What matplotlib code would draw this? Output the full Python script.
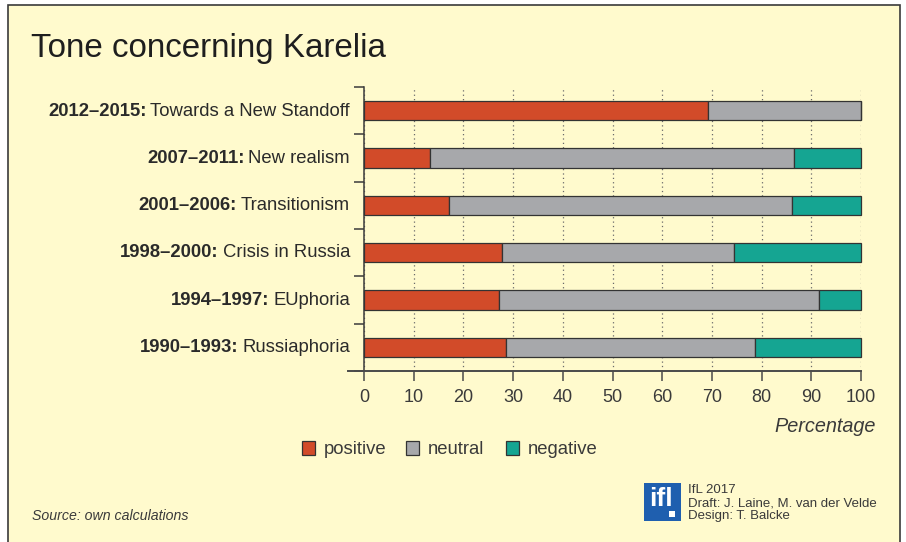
import matplotlib
matplotlib.use("Agg")
import matplotlib.pyplot as plt
from matplotlib.patches import Rectangle
from matplotlib.lines import Line2D
import numpy as np

plt.rcParams['font.family'] = ['Liberation Sans', 'DejaVu Sans']

# data (top to bottom as in the chart)
periods = ['2012–2015:', '2007–2011:', '2001–2006:', '1998–2000:', '1994–1997:', '1990–1993:']
names = ['Towards a New Standoff', 'New realism', 'Transitionism',
         'Crisis in Russia', 'EUphoria', 'Russiaphoria']
positive = [69.2, 13.2, 17.2, 27.7, 27.1, 28.6]
neutral = [30.8, 73.4, 69.0, 46.8, 64.5, 50.1]
negative = [0.0, 13.4, 13.8, 25.5, 8.4, 21.3]
series_names = ['positive', 'neutral', 'negative']
colors = ['#D24B29', '#A7A8AB', '#15A592']

W, H = 906, 542
bg = '#FFFACD'
ink = '#2A2A2A'

fig = plt.figure(figsize=(W / 100, H / 100), dpi=100)
fig.patch.set_facecolor('white')

def fx(px):
    return px / W

def fy(py):
    return 1 - py / H

# yellow panel with dark frame
fig.patches.append(Rectangle((fx(8), fy(560)), fx(892), 555 / H,
                             transform=fig.transFigure, facecolor=bg,
                             edgecolor='#3A3A3A', linewidth=1.2, zorder=-5))

ax = fig.add_axes([fx(364), fy(371), fx(861 - 364), (371 - 87) / H])
ax.set_facecolor('none')

y = np.arange(len(periods))[::-1]
pos = np.array(positive)
neu = np.array(neutral)
neg = np.array(negative)
for vals, left, c in [(pos, 0, colors[0]), (neu, pos, colors[1]), (neg, pos + neu, colors[2])]:
    bars = ax.barh(y, vals, left=left, height=0.41, color=c, edgecolor='#333333',
                   linewidth=0.9, zorder=3)
    for b in bars:
        b.set_clip_on(False)

ax.set_xlim(0, 100)
ax.set_ylim(-0.5, len(periods) - 0.5)
ax.set_xticks(np.arange(0, 101, 10))
ax.set_yticks(np.arange(-0.5, len(periods), 1))
ax.set_yticklabels([])
ax.tick_params(axis='x', direction='out', length=7, width=1.1, color='#4A4A4A',
               labelsize=13, labelcolor='#3A3A3A', pad=6)
ax.tick_params(axis='y', direction='out', length=7, width=1.1, color='#3A3A3A')
for s in ['top', 'right']:
    ax.spines[s].set_visible(False)
ax.spines['left'].set_color('#3A3A3A')
ax.spines['left'].set_linewidth(1.1)
ax.spines['bottom'].set_color('#4A4A4A')
ax.spines['bottom'].set_linewidth(1.4)
ax.xaxis.grid(True, color='#6A6A6A', linestyle=(0, (1, 2.5)), linewidth=0.9, zorder=0)
ax.set_axisbelow(True)
# x axis extends a little to the left of the y axis
ax.add_line(Line2D([-16 / 497, 0], [0, 0], transform=ax.transAxes, color='#4A4A4A',
                   linewidth=1.4, clip_on=False))
ax.text(fx(876), fy(432), 'Percentage', transform=fig.transFigure, ha='right',
        va='baseline', fontsize=14.3, style='italic', color='#3A3A3A')

# category labels: bold period + regular name
fig.canvas.draw()
renderer = fig.canvas.get_renderer()
for i, (p, n) in enumerate(zip(periods, names)):
    yy = fy(87 + 47.3 * i + 28.5)
    t = fig.text(fx(350), yy, n, ha='right', va='baseline', fontsize=13.3, color=ink)
    wdt = t.get_window_extent(renderer).width
    fig.text(fx(350) - (wdt + 4) / W, yy, p, ha='right', va='baseline', fontsize=13.3,
             fontweight='bold', color=ink)

# title
fig.text(fx(31), fy(57), 'Tone concerning Karelia', fontsize=23.9, color='#1E1E1E',
         va='baseline', ha='left')

# legend
lx = [302, 406, 506]
for c, name, x0 in zip(colors, series_names, lx):
    fig.patches.append(Rectangle((fx(x0), fy(455)), fx(13), 14 / H, transform=fig.transFigure,
                                 facecolor=c, edgecolor='#333333', linewidth=0.9))
    fig.text(fx(x0 + 22), fy(454), name, fontsize=13.3, color='#3A3A3A', va='baseline')

# source
fig.text(fx(32), fy(520), 'Source: own calculations', fontsize=10.2, style='italic',
         color='#3A3A3A', va='baseline')

# IfL logo and credits
fig.patches.append(Rectangle((fx(644), fy(521)), fx(37), 38 / H, transform=fig.transFigure,
                             facecolor='#1F5FAF', edgecolor='none'))
fig.text(fx(661), fy(499), 'ifl', fontsize=19, fontweight='bold', color='white',
         ha='center', va='center')
fig.patches.append(Rectangle((fx(669), fy(517)), fx(6), 6 / H, transform=fig.transFigure,
                             facecolor='white', edgecolor='none'))
for k, line in enumerate(['IfL 2017', 'Draft: J. Laine, M. van der Velde', 'Design: T. Balcke']):
    fig.text(fx(688), fy(493 + 13 * k), line, fontsize=9.5, color='#3A3A3A', va='baseline')

fig.savefig('out.png', dpi=100, facecolor=fig.get_facecolor())
